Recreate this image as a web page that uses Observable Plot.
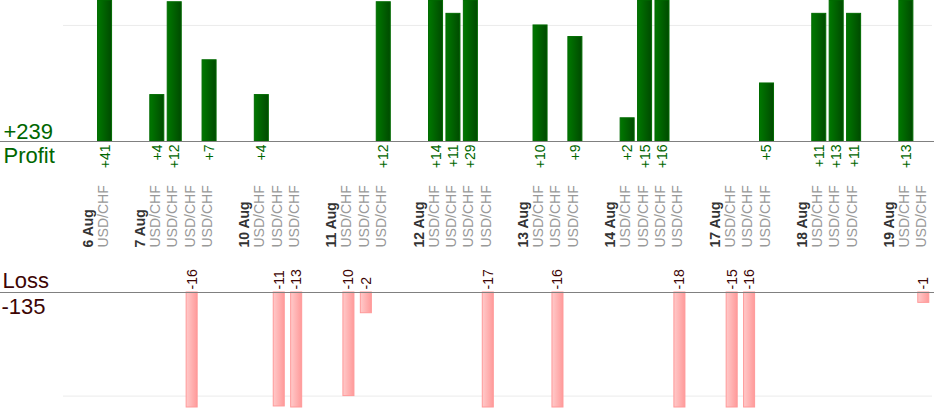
<!DOCTYPE html>
<html><head><meta charset="utf-8">
<script src="https://cdn.jsdelivr.net/npm/d3@7"></script>
<script src="https://cdn.jsdelivr.net/npm/@observablehq/plot@0.6"></script>
<style>
body{margin:0;background:#fff;}
#chart{width:934px;height:420px;font-family:"Liberation Sans",Arial,sans-serif;}
#chart svg{display:block;overflow:visible;}
</style></head><body><div id="chart"></div>
<script>
const days = ["6 Aug","7 Aug","10 Aug","11 Aug","12 Aug","13 Aug","14 Aug","17 Aug","18 Aug","19 Aug"];
const pair = "USD/CHF";
const results = [[41],[4,12,-16,7],[4,-11,-13],[-10,-2,12],[14,11,29,-17],[10,-16,9],[2,15,16,-18],[-15,-16,5],[11,13,11],[13,-1]];
const gapSlots = 2;
const profitGrid = [10];
const lossGrid = [-10];
const profitMax = 12.15;
const lossMax = -11.1;

const trades = [];
let slot = 0;
days.forEach((day, i) => {
  slot += gapSlots;
  results[i].forEach((v, j) => { trades.push({slot, day, first: j === 0, value: v}); slot++; });
});
const slots = d3.range(slot);
const profits = trades.filter(d => d.value > 0);
const losses = trades.filter(d => d.value < 0);
const totalProfit = d3.sum(profits, d => d.value);
const totalLoss = d3.sum(losses, d => d.value);

const green = "#006600", maroon = "#3d0505";
const font = "'Liberation Sans', Arial, sans-serif";

const profitPlot = Plot.plot({
  width: 934, height: 250, marginTop: 0, marginBottom: 109, marginLeft: 61, marginRight: 2,
  style: {fontFamily: font, background: "transparent"},
  x: {type: "band", domain: slots, padding: 0, round: false, axis: null},
  y: {domain: [0, profitMax], clamp: true, axis: null},
  marks: [
    Plot.ruleY(profitGrid, {stroke: "#ebebeb", insetLeft: 2}),
    Plot.barY(profits, {x: "slot", y: "value", fill: "url(#gProfit)", stroke: "#006a00", strokeWidth: 1, insetLeft: 1.7, insetRight: 1.7}),
    Plot.ruleY([0], {stroke: "#808080", insetLeft: -61, insetRight: -2}),
    Plot.text(profits, {x: "slot", y: d => 0, text: d => "+" + d.value, rotate: -90, textAnchor: "end", lineAnchor: "middle", dy: 3, fill: green, fontSize: 14}),
    Plot.text(trades.filter(d => d.first), {x: "slot", y: d => 0, text: "day", rotate: -90, textAnchor: "start", lineAnchor: "bottom", dx: -12.5, dy: 106, fill: "#333", fontWeight: "bold", fontSize: 14}),
    Plot.text(trades, {x: "slot", y: d => 0, text: d => pair, rotate: -90, textAnchor: "start", lineAnchor: "bottom", dx: 2.5, dy: 106, fill: "#999", fontSize: 14}),
    Plot.text([totalProfit], {frameAnchor: "left", y: d => 0, text: d => "+" + d, textAnchor: "start", lineAnchor: "bottom", dx: -58, dy: -3, fill: green, fontSize: 22}),
    Plot.text(["Profit"], {frameAnchor: "left", y: d => 0, text: d => d, textAnchor: "start", lineAnchor: "top", dx: -58, dy: 6, fill: green, fontSize: 22})
  ]
});
profitPlot.insertAdjacentHTML("afterbegin", `<defs><linearGradient id="gProfit" x1="0" x2="1" y1="0" y2="0"><stop offset="0" stop-color="#007800"/><stop offset="1" stop-color="#004a00"/></linearGradient></defs>`);

const lossPlot = Plot.plot({
  width: 934, height: 170, marginTop: 42, marginBottom: 13, marginLeft: 61, marginRight: 2,
  style: {fontFamily: font, background: "transparent"},
  x: {type: "band", domain: slots, padding: 0, round: false, axis: null},
  y: {domain: [lossMax, 0], clamp: true, axis: null},
  marks: [
    Plot.ruleY(lossGrid, {stroke: "#ebebeb", insetLeft: 2}),
    Plot.barY(losses, {x: "slot", y: "value", fill: "url(#gLoss)", stroke: "#ff9999", strokeWidth: 1, insetLeft: 3.2, insetRight: 3.2}),
    Plot.ruleY([0], {stroke: "#808080", insetLeft: -61, insetRight: -2}),
    Plot.text(losses, {x: "slot", y: d => 0, text: d => String(d.value), rotate: -90, textAnchor: "start", lineAnchor: "middle", dy: -3, fill: maroon, fontSize: 14}),
    Plot.text(["Loss"], {frameAnchor: "left", y: d => 0, text: d => d, textAnchor: "start", lineAnchor: "bottom", dx: -59, dy: -5, fill: maroon, fontSize: 22}),
    Plot.text([totalLoss], {frameAnchor: "left", y: d => 0, text: d => String(d), textAnchor: "start", lineAnchor: "top", dx: -60, dy: 6, fill: maroon, fontSize: 22})
  ]
});
lossPlot.insertAdjacentHTML("afterbegin", `<defs><linearGradient id="gLoss" x1="0" x2="1" y1="0" y2="0"><stop offset="0" stop-color="#ffcaca"/><stop offset="1" stop-color="#ff9a9a"/></linearGradient></defs>`);

const chart = document.getElementById("chart");
chart.appendChild(profitPlot);
chart.appendChild(lossPlot);
</script>
</body></html>
